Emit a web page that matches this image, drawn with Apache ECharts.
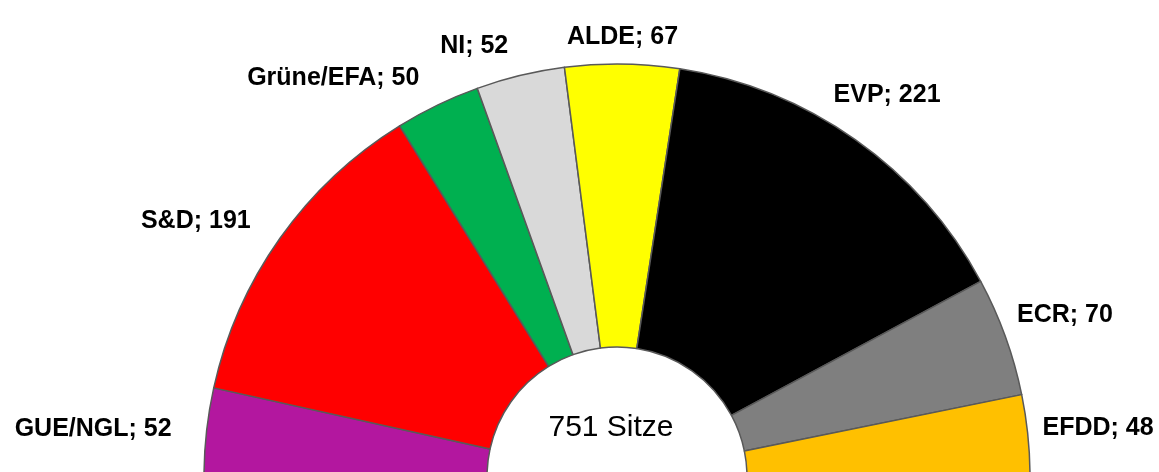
<!DOCTYPE html>
<html>
<head>
<meta charset="utf-8">
<title>Sitzverteilung</title>
<script src="https://cdn.jsdelivr.net/npm/echarts@6/dist/echarts.min.js"></script>
<style>
  html, body { margin: 0; padding: 0; background: #fff; }
  #chart { width: 1159px; height: 472px; }
</style>
</head>
<body>
<div id="chart"></div>
<script>
  // Fraktionen, von links nach rechts
  var parties = ['GUE/NGL', 'S&D', 'Grüne/EFA', 'NI', 'ALDE', 'EVP', 'ECR', 'EFDD']
  var seats = [52, 191, 50, 52, 67, 221, 70, 48]
  var colors = ['#B3179F', '#FF0000', '#00B050', '#D9D9D9', '#FFFF00', '#000000', '#7F7F7F', '#FFC000']

  var cx = 617, cy = 477
  var innerR = 130, outerR = 413
  var fontName = '"Liberation Sans", Arial, sans-serif'

  var total = seats.reduce(function (a, b) { return a + b }, 0)

  // mittlerer Winkel eines Segments (Bogenmass, 0 = rechts, gegen den Uhrzeiger)
  function midAngle(i) {
    var before = 0
    for (var k = 0; k < i; k++) before += seats[k]
    var deg = 180 - (before + seats[i] / 2) / total * 180
    return deg * Math.PI / 180
  }

  var chart = echarts.init(document.getElementById('chart'))

  chart.setOption({
    animation: false,
    series: [{
      type: 'pie',
      center: [cx, cy],
      radius: [innerR, outerR],
      startAngle: 180,
      endAngle: 0,
      clockwise: true,
      avoidLabelOverlap: false,
      silent: true,
      itemStyle: {
        borderColor: '#595959',
        borderWidth: 1.5
      },
      label: {
        show: true,
        position: 'outside',
        formatter: '{b}; {c}',
        color: '#000',
        fontFamily: fontName,
        fontWeight: 'bold',
        fontSize: 25
      },
      labelLine: { show: false, length: 20, length2: 0 },
      labelLayout: function (p) {
        var a = midAngle(p.dataIndex)
        var dx = Math.cos(a), dy = -Math.sin(a)
        if (dx < -0.2) {
          var r = outerR + 30
          return { x: cx + r * dx - 5, y: cy + r * dy, align: 'right', verticalAlign: 'middle' }
        }
        var w = p.labelRect.width, h = p.labelRect.height
        var r2 = outerR + 14 + Math.abs(dx) * w / 2 + Math.abs(dy) * h / 2
        return { x: cx + r2 * dx, y: cy + r2 * dy, align: 'center', verticalAlign: 'middle' }
      },
      data: parties.map(function (name, i) {
        return { name: name, value: seats[i], itemStyle: { color: colors[i] } }
      })
    }],
    graphic: [{
      type: 'text',
      x: cx - 6,
      y: 428,
      silent: true,
      style: {
        text: total + ' Sitze',
        font: '30px ' + fontName,
        fill: '#000',
        align: 'center',
        verticalAlign: 'middle'
      }
    }]
  })
</script>
</body>
</html>
